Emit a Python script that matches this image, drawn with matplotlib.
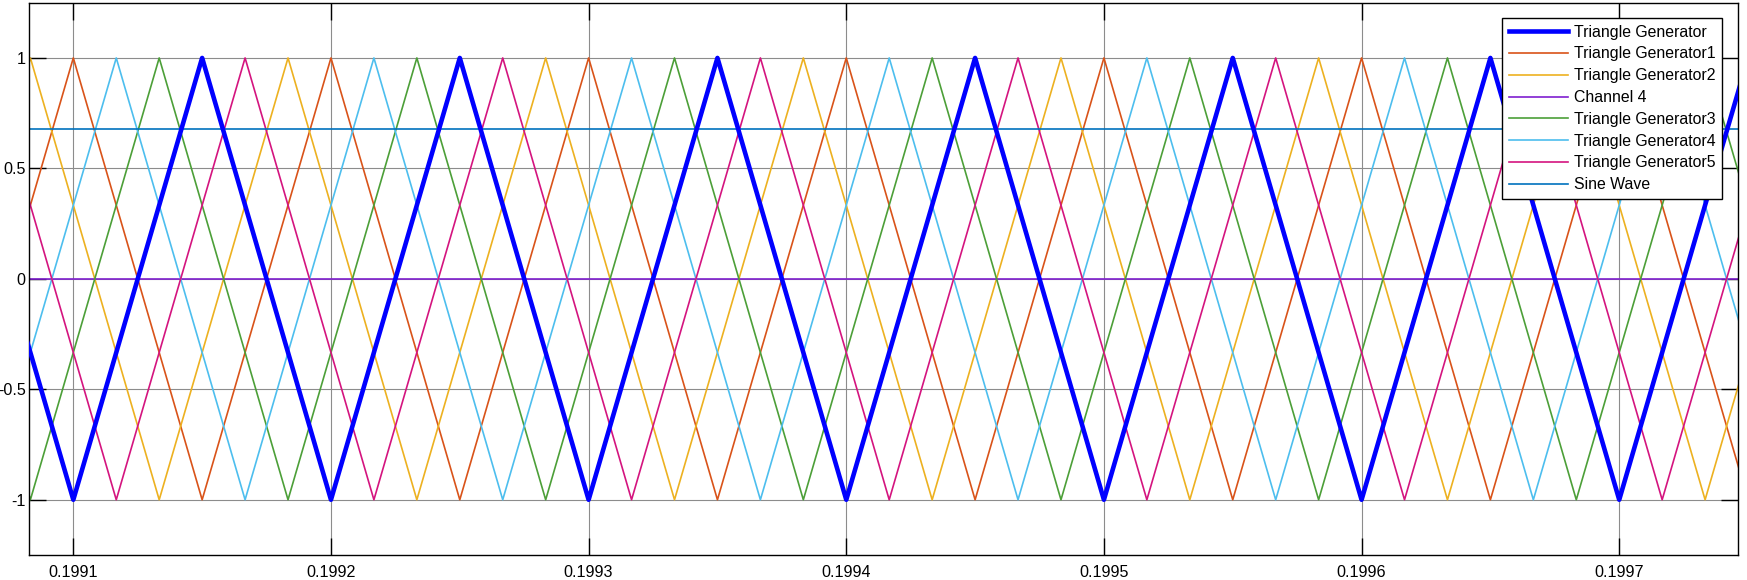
import numpy as np
import matplotlib.pyplot as plt

plt.rcParams['font.family'] = ['Liberation Sans', 'DejaVu Sans']

# one period of a triangle sampled every 1/6 period (peak first)
tri_cycle = [1, 1/3, -1/3, -1, -1/3, 1/3]
period = 0.0001
t0 = 0.1991          # reference time where Triangle Generator1 peaks
k_start, k_stop = -3, 42

# sample index (in 1/6 periods after t0) where each generator peaks
names = ["Triangle Generator", "Triangle Generator1", "Triangle Generator2",
         "Channel 4", "Triangle Generator3", "Triangle Generator4",
         "Triangle Generator5", "Sine Wave"]
peak_shift = {"Triangle Generator": 3, "Triangle Generator1": 0,
              "Triangle Generator2": 5, "Triangle Generator3": 2,
              "Triangle Generator4": 1, "Triangle Generator5": 4}
channel4_level = 0.0
sine_level = 0.678

colors = {"Triangle Generator": "#0000FF", "Triangle Generator1": "#D95319",
          "Triangle Generator2": "#EDB120", "Channel 4": "#7F1FCF",
          "Triangle Generator3": "#4C9F38", "Triangle Generator4": "#4DBEEE",
          "Triangle Generator5": "#D4147F", "Sine Wave": "#0072BD"}

k = np.arange(k_start, k_stop + 1)
t = t0 + k * period / 6

fig = plt.figure(figsize=(17.47, 5.8), dpi=100)
ax = fig.add_axes([29/1747, 1 - 555/580, (1738 - 29)/1747, (555 - 2.7)/580])

for name in names:
    if name in peak_shift:
        y = [tri_cycle[(i - peak_shift[name]) % 6] for i in k]
    elif name == "Channel 4":
        y = np.full(len(k), channel4_level)
    else:
        y = np.full(len(k), sine_level)
    lw = 3.3 if name == "Triangle Generator" else 1.2
    ax.plot(t, y, color=colors[name], lw=lw, label=name,
            zorder=3 if name == "Triangle Generator" else 2)

ax.set_xlim(0.1990828, 0.1997461)
ax.set_ylim(-1.25, 1.25)
ax.set_xticks([0.1991, 0.1992, 0.1993, 0.1994, 0.1995, 0.1996, 0.1997])
ax.set_xticklabels(["0.1991", "0.1992", "0.1993", "0.1994", "0.1995", "0.1996", "0.1997"])
ax.set_yticks([-1, -0.5, 0, 0.5, 1])
ax.set_yticklabels(["-1", "-0.5", "0", "0.5", "1"])
ax.grid(True, color="#8c8c8c", lw=0.8)
ax.set_axisbelow(True)
ax.tick_params(direction="in", length=12.5, width=1, top=True, right=True,
               labelsize=11.6, color="black")
ax.tick_params(axis="x", pad=7.5)
ax.tick_params(axis="y", pad=2.5)
for s in ax.spines.values():
    s.set_linewidth(1)
    s.set_color("black")

leg = ax.legend(loc="upper right", bbox_to_anchor=(1721.7/1747, 1 - 18.3/580),
                bbox_transform=fig.transFigure, borderaxespad=0,
                fontsize=11.4, handlelength=3.75, labelspacing=0.43,
                fancybox=False, framealpha=1, edgecolor="black",
                handletextpad=0.36, borderpad=0.4)
leg.get_frame().set_linewidth(1)

fig.savefig("out.png", dpi=100)
